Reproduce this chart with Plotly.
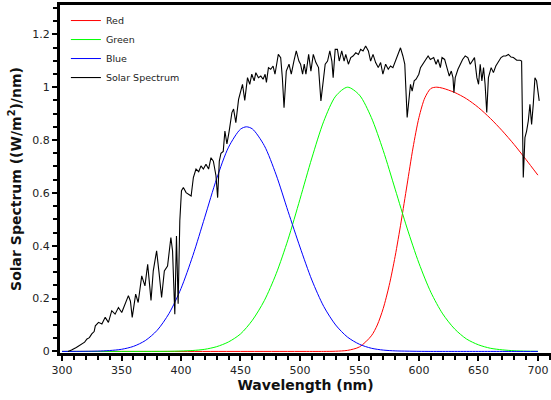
import plotly.graph_objects as go

# ---------------- data ----------------
grid_wl = [300, 310, 320, 330, 340, 350, 360, 370, 380, 390,
           400, 410, 420, 430, 440, 450, 460, 470, 480, 490,
           500, 510, 520, 530, 540, 550, 560, 570, 580, 590,
           600, 610, 620, 630, 640, 650, 660, 670, 680, 690, 700]

red_wl = [300, 350, 400, 450, 500, 520, 530, 540, 550, 560, 565, 570, 575, 580, 585,
          590, 595, 600, 605, 610, 615, 620, 630, 640, 650, 660, 670, 680, 690, 700]
red_vals = [0, 0, 0, 0, 0, 0, 0.0007, 0.004, 0.017, 0.059, 0.100, 0.163, 0.250, 0.360, 0.490,
            0.630, 0.770, 0.885, 0.960, 0.995, 1.000, 0.996, 0.980, 0.956, 0.923, 0.882,
            0.835, 0.783, 0.726, 0.667]

green_vals = [0, 0, 0, 0, 0, 0, 0, 0, 0.0001, 0.0004,
              0.0015, 0.0035, 0.008, 0.018, 0.036, 0.066, 0.118, 0.192, 0.294, 0.424,
              0.576, 0.732, 0.871, 0.966, 1.000, 0.970, 0.885, 0.760, 0.614, 0.467,
              0.334, 0.224, 0.142, 0.085, 0.047, 0.025, 0.012, 0.006, 0.0025, 0.001, 0.0004]

blue_wl = [300, 310, 320, 330, 340, 350, 360, 370, 380, 390,
           400, 410, 420, 430, 440, 450, 455, 460, 470, 480, 490,
           500, 510, 520, 530, 540, 550, 560, 570, 580, 590,
           600, 610, 620, 630, 640, 650, 660, 670, 680, 690, 700]
blue_vals = [0.000, 0.0001, 0.0004, 0.0012, 0.0033, 0.008, 0.019, 0.041, 0.080, 0.144,
             0.238, 0.363, 0.508, 0.654, 0.773, 0.841, 0.850, 0.842, 0.779, 0.668, 0.530,
             0.395, 0.270, 0.170, 0.100, 0.054, 0.027, 0.012, 0.005, 0.002, 0.001,
             0.0003, 0, 0, 0, 0, 0, 0, 0, 0, 0, 0]

solar_wl = [305, 308, 312, 316.7, 319, 321, 323, 325, 327, 328,
            330.7, 333.5, 336.3, 339, 341.8, 344.6, 347.4, 350.2, 353, 355.8,
            357.5, 359, 361.9, 364, 367, 369.7, 372, 374.8, 376.7, 379.5,
            381.5, 383.7, 386, 388.7, 391.5, 392.9, 394.8, 396.2, 397.6, 399,
            400.4, 402, 404.3, 406.5, 408.5, 410.4, 412.6, 414.9, 416.8, 418.8,
            421, 423.2, 425.2, 427.2, 429.4, 430.8, 432.2, 433.6, 435.5, 436.9,
            438.6, 440.5, 442.8, 444.2, 446.1, 448.4, 450.3, 451.7, 453.6, 455.9,
            457.8, 459.5, 461.5, 462.9, 465.1, 467.1, 469, 470.7, 471.8, 473.5,
            475.4, 477.4, 479, 480.1, 481.8, 483.8, 485.2, 486.6, 488.5, 490.8,
            492.7, 494.9, 496.9, 499.1, 500.5, 502.2, 503.6, 505, 507.3, 509.2,
            511.2, 513.4, 515.6, 517.6, 519.5, 521.2, 523.2, 525.1, 526.8, 527.9,
            529.6, 531.5, 533, 535.1, 537.1, 538.5, 540.7, 542.7, 544.6, 546.9,
            549.1, 551, 553, 555.2, 557.5, 559.4, 561.4, 563.6, 565.8, 567.8,
            569.7, 572, 574.2, 576.1, 578.1, 580.3, 582.6, 584.5, 586.5, 588.1,
            590.1, 591.5, 592.9, 594.3, 596, 597.6, 599.9, 601.3, 603.2, 605.4,
            607.7, 609.6, 612.4, 614.4, 616, 618, 619.4, 621.6, 623.6, 625.5,
            627.2, 628.6, 629.4, 630.5, 632.8, 634.7, 636.7, 638.9, 641.1, 643.1,
            645, 646.7, 648.7, 650.1, 651.5, 652.9, 654.3, 655.6, 657, 658.4,
            660.7, 662.6, 664.6, 666.8, 669, 671, 673, 675.2, 677.4, 679.4,
            682.2, 684.9, 686.3, 687.7, 689.1, 690.5, 691.9, 693.3, 694.7, 696.1,
            697.5, 698.9, 700.3, 701.1]
solar_vals = [0.000, 0.005, 0.015, 0.028, 0.035, 0.047, 0.052, 0.066, 0.075, 0.097,
              0.110, 0.104, 0.129, 0.110, 0.154, 0.141, 0.166, 0.147, 0.179, 0.211,
              0.190, 0.129, 0.217, 0.185, 0.286, 0.248, 0.330, 0.193, 0.305, 0.381,
              0.300, 0.204, 0.305, 0.323, 0.431, 0.380, 0.141, 0.437, 0.180, 0.494,
              0.608, 0.620, 0.601, 0.595, 0.588, 0.658, 0.690, 0.680, 0.702, 0.690,
              0.708, 0.690, 0.733, 0.720, 0.665, 0.582, 0.720, 0.750, 0.757, 0.834,
              0.785, 0.834, 0.904, 0.917, 0.866, 0.954, 0.986, 1.011, 0.950, 1.036,
              1.011, 1.049, 1.024, 1.055, 1.036, 1.042, 1.030, 1.049, 1.018, 1.074,
              1.068, 1.080, 1.049, 1.087, 1.124, 1.112, 1.036, 0.922, 1.061, 1.087,
              1.049, 1.099, 1.137, 1.099, 1.087, 1.049, 1.087, 1.049, 1.124, 1.061,
              1.124, 1.093, 1.074, 0.948, 1.036, 1.087, 1.099, 1.137, 1.099, 1.036,
              1.143, 1.143, 1.099, 1.137, 1.099, 1.124, 1.087, 1.112, 1.118, 1.130,
              1.124, 1.143, 1.137, 1.156, 1.137, 1.099, 1.124, 1.093, 1.074, 1.093,
              1.049, 1.087, 1.068, 1.080, 1.074, 1.099, 1.124, 1.149, 1.118, 1.087,
              0.885, 0.960, 1.011, 0.985, 1.024, 1.030, 1.049, 1.074, 1.087, 1.105,
              1.118, 1.105, 1.112, 1.087, 1.105, 1.074, 1.112, 1.105, 1.074, 1.042,
              1.061, 1.036, 0.979, 1.036, 1.068, 1.087, 1.105, 1.118, 1.112, 1.087,
              1.099, 1.112, 1.036, 1.011, 1.087, 1.024, 1.074, 1.011, 0.904, 1.036,
              1.074, 1.055, 1.080, 1.099, 1.112, 1.118, 1.118, 1.124, 1.114, 1.112,
              1.102, 1.102, 1.099, 0.658, 0.809, 0.834, 0.872, 0.935, 0.859, 0.935,
              1.036, 1.024, 0.960, 0.948]

x_tick_vals = [300, 350, 400, 450, 500, 550, 600, 650, 700]
y_tick_vals = [0, 0.2, 0.4, 0.6, 0.8, 1.0, 1.2]
y_tick_text = ["0", "0.2", "0.4", "0.6", "0.8", "1", "1.2"]

FONT = "DejaVu Sans"

fig = go.Figure()
fig.add_trace(go.Scatter(x=red_wl, y=red_vals, mode="lines", name="Red",
                         line=dict(color="#ff0000", width=1, shape="spline", smoothing=0.8)))
fig.add_trace(go.Scatter(x=grid_wl, y=green_vals, mode="lines", name="Green",
                         line=dict(color="#00ff00", width=1, shape="spline", smoothing=0.8)))
fig.add_trace(go.Scatter(x=blue_wl, y=blue_vals, mode="lines", name="Blue",
                         line=dict(color="#0000ff", width=1, shape="spline", smoothing=0.8)))
fig.add_trace(go.Scatter(x=solar_wl, y=solar_vals, mode="lines", name="Solar Spectrum",
                         line=dict(color="#000000", width=1.1)))

fig.update_layout(
    width=551, height=400,
    margin=dict(l=60, r=0, t=5, b=47),
    paper_bgcolor="white", plot_bgcolor="white",
    font=dict(family=FONT, color="#222222"),
    showlegend=True,
    legend=dict(x=0.012, y=0.997, xanchor="left", yanchor="top",
                bgcolor="rgba(0,0,0,0)", borderwidth=0,
                font=dict(family=FONT, size=9.5, color="#222222")),
    xaxis=dict(range=[298.3, 711], tickvals=x_tick_vals,
               showline=True, linewidth=3, linecolor="black", mirror=True,
               ticks="outside", ticklen=5, tickwidth=2, tickcolor="black",
               minor=dict(dtick=10, tick0=300, ticks="outside", ticklen=4,
                          tickwidth=2, tickcolor="black", showgrid=False),
               showgrid=False, zeroline=False,
               tickfont=dict(family=FONT, size=11, color="#222222"),
               title=dict(text="<b>Wavelength (nm)</b>", standoff=4,
                          font=dict(family=FONT, size=14, color="#111111"))),
    yaxis=dict(range=[-0.006, 1.311], tickvals=y_tick_vals, ticktext=y_tick_text,
               showline=True, linewidth=3, linecolor="black", mirror=False,
               ticks="outside", ticklen=5, tickwidth=2, tickcolor="black",
               minor=dict(dtick=0.05, tick0=0, ticks="outside", ticklen=4,
                          tickwidth=2, tickcolor="black", showgrid=False),
               showgrid=False, zeroline=False,
               tickfont=dict(family=FONT, size=11, color="#222222"),
               title=dict(text="<b>Solar Spectrum ((W/m<sup>2</sup>)/nm)</b>", standoff=8,
                          font=dict(family=FONT, size=14, color="#111111"))),
)

fig.write_html("out.html")
